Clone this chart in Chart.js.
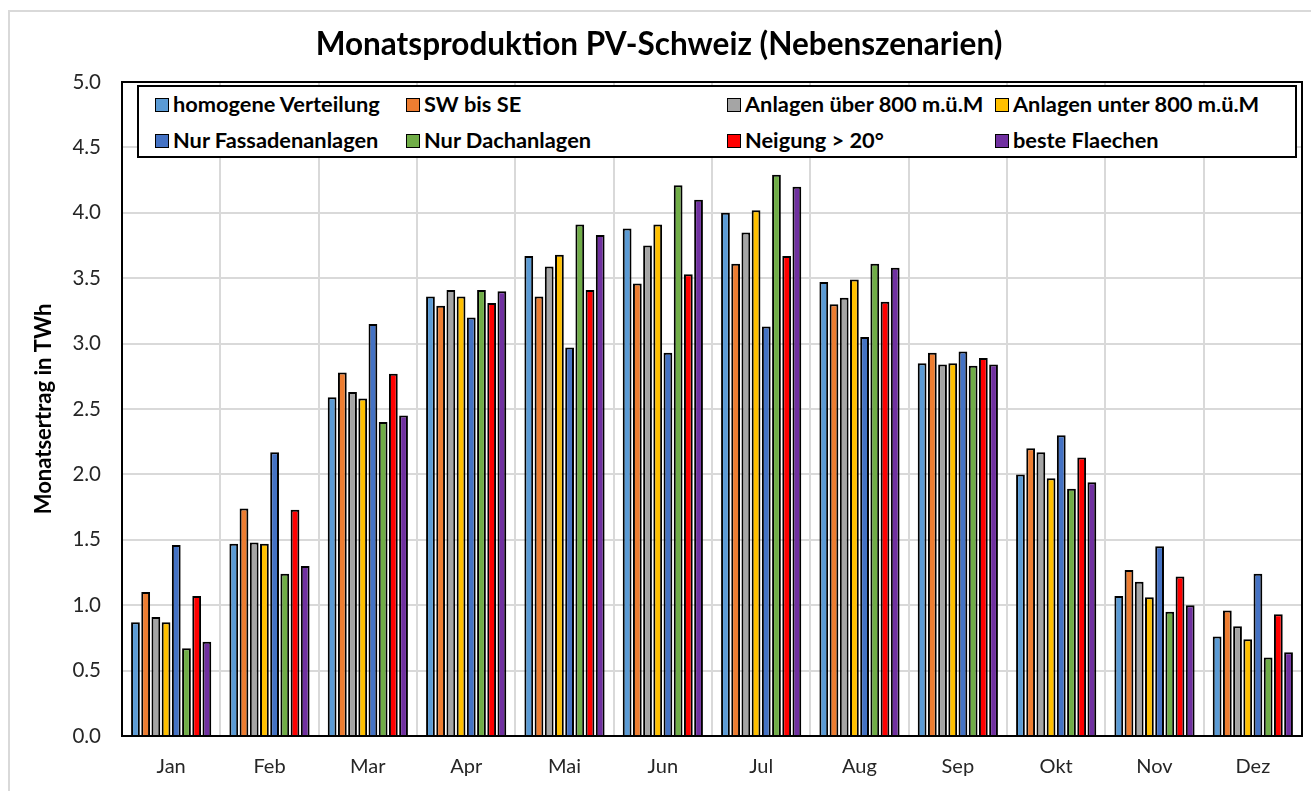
<!DOCTYPE html>
<html>
<head>
<meta charset="utf-8">
<script src="https://cdn.jsdelivr.net/npm/chart.js@4.4.1/dist/chart.umd.min.js"></script>
<style>
  html, body { margin: 0; padding: 0; background: #fff; }
  #wrap { position: relative; width: 1311px; height: 791px; overflow: hidden; font-family: Lato, "Open Sans", sans-serif; }
  #frame { position: absolute; left: 8px; top: 10px; width: 1400px; height: 900px; border: 2px solid #d9d9d9; box-sizing: border-box; }
  #title { position: absolute; left: 0; width: 1318px; top: 24px; text-align: center; font-weight: bold; font-size: 31.5px; color: #000; }
  #legend { position: absolute; left: 137px; top: 85px; width: 1160px; height: 73px; box-sizing: border-box;
            border: 2px solid #000; background: #fff; z-index: 2; }
  .item { position: absolute; font-weight: bold; font-size: 21.8px; color: #000; white-space: nowrap; line-height: 24px; }
  .item i { display: inline-block; width: 12px; height: 12px; border: 1.5px solid #000; margin-right: 4px; vertical-align: 0px; }
  canvas { position: absolute; left: 0; top: 0; }
</style>
</head>
<body>
<div id="wrap">
  <div id="frame"></div>
  <canvas id="c" width="1311" height="791"></canvas>
  <div id="title">Monatsproduktion PV-Schweiz (Nebenszenarien)</div>
  <div id="legend"></div>
</div>
<script>
/* ─── Data ───────────────────────────────────────────── */
const months = ['Jan', 'Feb', 'Mar', 'Apr', 'Mai', 'Jun', 'Jul', 'Aug', 'Sep', 'Okt', 'Nov', 'Dez'];

const homogen    = [0.87, 1.47, 2.59, 3.36, 3.67, 3.88, 4.00, 3.47, 2.85, 2.00, 1.07, 0.76];
const swBisSe    = [1.10, 1.74, 2.78, 3.29, 3.36, 3.46, 3.61, 3.30, 2.93, 2.20, 1.27, 0.96];
const ueber800   = [0.91, 1.48, 2.63, 3.41, 3.59, 3.75, 3.85, 3.35, 2.84, 2.17, 1.18, 0.84];
const unter800   = [0.87, 1.47, 2.58, 3.36, 3.68, 3.91, 4.02, 3.49, 2.85, 1.97, 1.06, 0.74];
const fassade    = [1.46, 2.17, 3.15, 3.20, 2.97, 2.93, 3.13, 3.05, 2.94, 2.30, 1.45, 1.24];
const dach       = [0.67, 1.24, 2.40, 3.41, 3.91, 4.21, 4.29, 3.61, 2.83, 1.89, 0.95, 0.60];
const neigung    = [1.07, 1.73, 2.77, 3.31, 3.41, 3.53, 3.67, 3.32, 2.89, 2.13, 1.22, 0.93];
const besteFl    = [0.72, 1.30, 2.45, 3.40, 3.83, 4.10, 4.20, 3.58, 2.84, 1.94, 1.00, 0.64];

const yTicks = [0, 0.5, 1, 1.5, 2, 2.5, 3, 3.5, 4, 4.5, 5];

const SERIES = [
  { label: 'homogene Verteilung',     data: homogen,  color: '#5b9bd5' },
  { label: 'SW bis SE',               data: swBisSe,  color: '#ed7d31' },
  { label: 'Anlagen über 800 m.ü.M',  data: ueber800, color: '#a5a5a5' },
  { label: 'Anlagen unter 800 m.ü.M', data: unter800, color: '#ffc000' },
  { label: 'Nur Fassadenanlagen',     data: fassade,  color: '#4472c4' },
  { label: 'Nur Dachanlagen',         data: dach,     color: '#70ad47' },
  { label: 'Neigung > 20°',           data: neigung,  color: '#ff0000' },
  { label: 'beste Flaechen',          data: besteFl,  color: '#7030a0' },
];

/* ─── Legend (4 columns x 2 rows) ─────────────────────── */
const LEGEND_COLS = [16, 267, 588, 856];
const LEGEND_ROWS = [5, 41];
const legendEl = document.getElementById('legend');
legendEl.innerHTML = SERIES.map((s, i) => {
  const col = i % 4, row = Math.floor(i / 4);
  return `<div class="item" style="left:${LEGEND_COLS[col]}px;top:${LEGEND_ROWS[row]}px">` +
         `<i style="background:${s.color}"></i>${s.label}</div>`;
}).join('');

/* ─── Plot frame (top + right border) ─────────────────── */
const frameBorder = {
  id: 'frameBorder',
  afterDraw(chart) {
    const { ctx, chartArea: a } = chart;
    ctx.save();
    ctx.strokeStyle = '#000';
    ctx.lineWidth = 2;
    ctx.strokeRect(a.left, a.top, a.right - a.left, a.bottom - a.top);
    ctx.restore();
  },
};

new Chart(document.getElementById('c').getContext('2d'), {
  type: 'bar',
  data: {
    labels: months,
    datasets: SERIES.map(s => ({
      label: s.label,
      data: s.data,
      backgroundColor: s.color,
      borderColor: '#000',
      borderWidth: 2,
      barPercentage: 0.86,
      categoryPercentage: 0.83,
    })),
  },
  options: {
    responsive: false,
    animation: false,
    layout: { padding: { top: 82, right: 9, left: 0, bottom: 0 } },
    plugins: {
      legend: { display: false },
      title: { display: false },
      tooltip: { enabled: false },
    },
    scales: {
      x: {
        grid: { color: '#d9d9d9', lineWidth: 2, drawTicks: false, offset: true },
        border: { color: '#000', width: 2 },
        ticks: { color: '#262626', padding: 19, font: { family: 'Lato', size: 20 } },
        afterFit: s => { s.height = 55; },
      },
      y: {
        min: 0,
        max: 5,
        afterBuildTicks: s => { s.ticks = yTicks.map(v => ({ value: v })); },
        grid: { color: '#d9d9d9', lineWidth: 2, drawTicks: false },
        border: { color: '#000', width: 2 },
        ticks: { color: '#262626', padding: 21, font: { family: 'Lato', size: 20.5 },
                 callback: v => v.toFixed(1) },
        title: { display: true, text: 'Monatsertrag in TWh', color: '#000',
                 font: { family: 'Lato', size: 22, weight: 'bold' }, padding: { top: 31, bottom: 0 } },
        afterFit: s => { s.width = 122; },
      },
    },
  },
  plugins: [frameBorder],
});
</script>
</body>
</html>
